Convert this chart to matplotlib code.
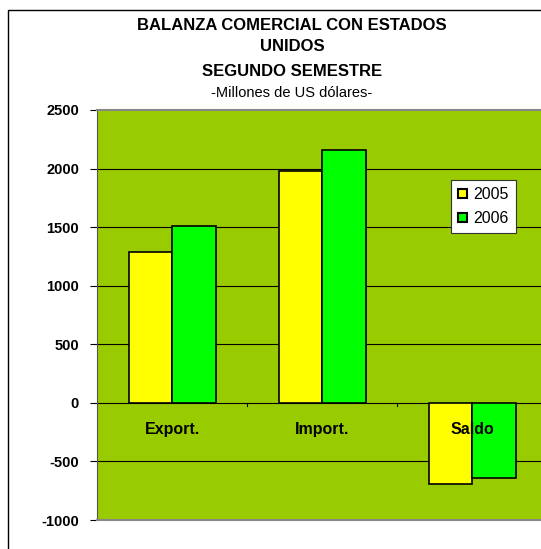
import matplotlib
matplotlib.use("Agg")
import matplotlib.pyplot as plt
from matplotlib.patches import Rectangle
import numpy as np

categories = ["Export.", "Import.", "Saldo"]
years = ["2005", "2006"]
values_2005 = [1290, 1975, -690]
values_2006 = [1510, 2160, -640]
yticks = [-1000, -500, 0, 500, 1000, 1500, 2000, 2500]

plt.rcParams['font.family'] = ['Liberation Sans', 'DejaVu Sans']

fig = plt.figure(figsize=(5.41, 5.49), dpi=100)
fig.patch.set_facecolor('white')

# outer chart border
fig.patches.append(Rectangle((8/541, -0.05), 1.1, (549-10)/549 + 0.05, transform=fig.transFigure,
                             fill=False, edgecolor='black', linewidth=1.0, zorder=0))

ax = fig.add_axes([97/541, 29/549, 450/541, 410/549])
ax.set_facecolor('#99CC00')
ax.set_ylim(-1000, 2500)
ax.set_xlim(-0.5, 2.5)

x = np.arange(len(categories))
w = 0.29
ax.bar(x - w/2, values_2005, width=w, color='#FFFF00', edgecolor='black', linewidth=1.2, zorder=3, label=years[0])
ax.bar(x + w/2, values_2006, width=w, color='#00FF00', edgecolor='black', linewidth=1.2, zorder=3, label=years[1])

for yv in yticks[1:-1]:
    ax.axhline(yv, color='black', linewidth=0.8, zorder=1)

ax.set_yticks(yticks)
ax.set_yticklabels([str(v) for v in yticks], fontweight='bold', fontsize=10.5)
ax.tick_params(axis='y', length=5, width=0.8, pad=8, direction='out')
ax.set_xticks([0.5, 1.5])
ax.set_xticklabels([])
ax.tick_params(axis='x', length=0)
for xt in [0.5, 1.5]:
    ax.plot([xt, xt], [0, -30], color='black', linewidth=0.8, zorder=2)

for i, c in enumerate(categories):
    ax.text(i, -225, c, ha='center', va='center', fontweight='bold', fontsize=11.5, zorder=5)

ax.spines['left'].set_color('#555555')
ax.spines['top'].set_color('#888888')
ax.spines['top'].set_linewidth(1.5)
ax.spines['bottom'].set_color('#888888')
ax.spines['bottom'].set_linewidth(1.5)
ax.spines['right'].set_visible(False)

leg = ax.legend(loc='upper left', bbox_to_anchor=(354/450, 340/410), frameon=True,
                fancybox=False, edgecolor='#333333', facecolor='white', framealpha=1,
                fontsize=11.5, handlelength=0.55, handleheight=0.55,
                handletextpad=0.4, borderpad=0.45, labelspacing=0.55, borderaxespad=0)
leg.get_frame().set_linewidth(0.8)
for h in leg.legend_handles:
    h.set_linewidth(1.5)

fig.text(292/541, 1 - 25/549, "BALANZA COMERCIAL CON ESTADOS", ha='center', va='center',
         fontweight='bold', fontsize=12)
fig.text(292/541, 1 - 47/549, "UNIDOS", ha='center', va='center', fontweight='bold', fontsize=12)
fig.text(292/541, 1 - 71/549, "SEGUNDO SEMESTRE", ha='center', va='center', fontweight='bold', fontsize=12)
fig.text(292/541, 1 - 93/549, "-Millones de US dólares-", ha='center', va='center', fontsize=10.5)

fig.savefig("out.png", dpi=100)
